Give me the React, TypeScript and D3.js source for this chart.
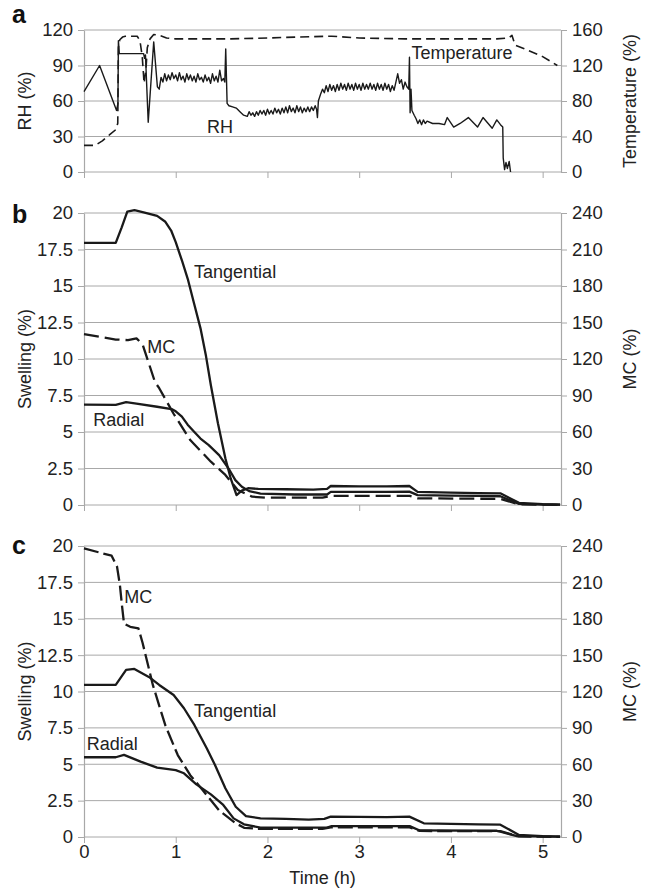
import { useEffect, useRef } from 'react';
import * as d3 from 'd3';

type Pt = [number, number];

const hourTicks = [0, 1, 2, 3, 4, 5];
const rhTicks = [0, 30, 60, 90, 120];
const tempTicks = [0, 40, 80, 120, 160];
const swellTicks = [0, 2.5, 5, 7.5, 10, 12.5, 15, 17.5, 20];
const mcTicks = [0, 30, 60, 90, 120, 150, 180, 210, 240];

// panel a: relative humidity (left axis)
const rhA: Pt[] = [
  [0, 68], [0.17, 90], [0.355, 52], [0.37, 58], [0.375, 111], [0.385, 100], [0.65, 100], [0.66, 96],
  [0.67, 99], [0.7, 42], [0.76, 110], [0.8, 72], [0.82, 70], [0.84, 80],
  [0.86, 76], [0.88, 83], [0.9, 77], [0.92, 82], [0.94, 78], [0.96, 84], [0.98, 79], [1.0, 82],
  [1.02, 77], [1.04, 84], [1.06, 78], [1.08, 81], [1.1, 76], [1.12, 83], [1.14, 78], [1.16, 82],
  [1.18, 77], [1.2, 81], [1.22, 76], [1.24, 83], [1.26, 78], [1.28, 80], [1.3, 76], [1.32, 82],
  [1.34, 77], [1.36, 80], [1.38, 75], [1.4, 83], [1.42, 77], [1.44, 81], [1.46, 76], [1.48, 86],
  [1.5, 77], [1.52, 79], [1.535, 76], [1.545, 104], [1.56, 58], [1.58, 56], [1.62, 55], [1.66, 54],
  [1.7, 51], [1.74, 48], [1.78, 47], [1.8, 51], [1.82, 48], [1.84, 50], [1.86, 47], [1.88, 51],
  [1.9, 48], [1.92, 52], [1.94, 49], [1.96, 52], [1.98, 48], [2.0, 53], [2.02, 49], [2.04, 52],
  [2.06, 49], [2.08, 54], [2.1, 50], [2.12, 53], [2.14, 49], [2.16, 54], [2.18, 50], [2.2, 55],
  [2.22, 50], [2.24, 56], [2.26, 51], [2.28, 54], [2.3, 50], [2.32, 56], [2.34, 51], [2.36, 55],
  [2.38, 50], [2.4, 54], [2.42, 51], [2.44, 55], [2.46, 51], [2.48, 55], [2.5, 52], [2.52, 56],
  [2.535, 53], [2.545, 46], [2.555, 60], [2.58, 66], [2.6, 70], [2.62, 67], [2.64, 73], [2.66, 68],
  [2.68, 74], [2.7, 69], [2.72, 73], [2.74, 68], [2.76, 74], [2.78, 69], [2.8, 75], [2.82, 70],
  [2.84, 74], [2.86, 69], [2.88, 75], [2.9, 70], [2.92, 74], [2.94, 69], [2.96, 75], [2.98, 70],
  [3.0, 74], [3.02, 69], [3.04, 75], [3.06, 70], [3.08, 74], [3.1, 70], [3.12, 75], [3.14, 70],
  [3.16, 74], [3.18, 69], [3.2, 75], [3.22, 70], [3.24, 74], [3.26, 69], [3.28, 75], [3.3, 70],
  [3.32, 74], [3.34, 68], [3.36, 73], [3.38, 69], [3.42, 83], [3.44, 75], [3.46, 78], [3.48, 70],
  [3.5, 76], [3.52, 72], [3.54, 70], [3.548, 97], [3.555, 50], [3.565, 70], [3.575, 52], [3.6, 48],
  [3.62, 45], [3.64, 41], [3.66, 44], [3.68, 40], [3.7, 44], [3.72, 41], [3.74, 43], [3.8, 41],
  [3.87, 41], [3.93, 40], [3.96, 46], [4.03, 38], [4.1, 41], [4.19, 46], [4.29, 38], [4.35, 46],
  [4.45, 37], [4.5, 44], [4.54, 40], [4.565, 38], [4.57, 12], [4.585, 2], [4.6, 8], [4.615, 3],
  [4.635, 9], [4.65, 0],
];

// panel a: temperature (right axis)
const tempA: Pt[] = [
  [0, 30], [0.12, 30], [0.2, 35], [0.28, 42], [0.35, 48], [0.368, 55], [0.375, 140], [0.39, 149],
  [0.42, 152], [0.45, 153], [0.58, 153], [0.61, 148], [0.635, 130], [0.655, 100], [0.675, 115],
  [0.69, 140], [0.72, 150], [0.76, 155], [0.82, 154], [0.9, 151], [1.0, 150], [1.3, 150], [1.6, 150],
  [2.0, 151], [2.3, 152], [2.7, 153], [3.0, 151], [3.5, 150], [4.0, 150], [4.5, 150], [4.63, 151],
  [4.665, 154], [4.7, 143], [4.8, 139], [5.0, 130], [5.16, 120],
];

// panel b
const tangB: Pt[] = [
  [0, 17.95], [0.346, 17.95], [0.41, 19.0], [0.472, 20.1], [0.55, 20.2], [0.65, 20.05], [0.797, 19.8],
  [0.887, 19.4], [0.95, 18.8], [1.0, 18.0], [1.07, 16.7], [1.135, 15.4], [1.2, 13.8], [1.27, 12.1],
  [1.33, 10.2], [1.383, 8.2], [1.46, 5.6], [1.541, 3.2], [1.6, 1.8], [1.663, 0.68], [1.72, 0.98],
  [1.789, 1.15], [1.9, 1.1], [2.2, 1.08], [2.5, 1.05], [2.65, 1.1], [2.69, 1.3], [3.0, 1.28],
  [3.3, 1.27], [3.547, 1.3], [3.637, 0.9], [4.0, 0.85], [4.3, 0.82], [4.539, 0.8], [4.742, 0.15],
  [5.0, 0.06], [5.19, 0.03],
];
const radialB: Pt[] = [
  [0, 6.88], [0.346, 6.86], [0.459, 7.05], [0.572, 6.95], [0.797, 6.73], [0.955, 6.57], [1.0, 6.42],
  [1.067, 6.05], [1.13, 5.5], [1.203, 5.0], [1.27, 4.55], [1.36, 4.1], [1.473, 3.42], [1.586, 2.4],
  [1.65, 1.7], [1.721, 1.25], [1.8, 0.95], [1.924, 0.78], [2.3, 0.72], [2.65, 0.72], [2.69, 0.9],
  [3.0, 0.9], [3.3, 0.9], [3.547, 0.92], [3.637, 0.68], [4.0, 0.64], [4.3, 0.62], [4.539, 0.6],
  [4.742, 0.08], [5.0, 0.03], [5.19, 0.02],
];
const mcB: Pt[] = [
  [0, 140.5], [0.346, 136], [0.48, 135.5], [0.572, 137], [0.639, 132], [0.774, 101], [0.82, 96],
  [0.977, 75], [1.158, 53.4], [1.383, 35.6], [1.541, 24.7], [1.676, 12.3], [1.834, 6.8], [2.0, 6],
  [2.6, 6], [2.69, 7.5], [3.55, 7.5], [3.64, 5.5], [4.54, 5], [4.74, 0.5], [5.19, 0.1],
];

// panel c
const tangC: Pt[] = [
  [0, 10.45], [0.346, 10.45], [0.459, 11.48], [0.549, 11.55], [0.707, 11.0], [0.82, 10.45],
  [0.977, 9.76], [1.09, 8.85], [1.203, 7.7], [1.338, 6.1], [1.428, 4.95], [1.541, 3.35], [1.654, 2.08],
  [1.766, 1.44], [1.924, 1.28], [2.2, 1.25], [2.45, 1.2], [2.62, 1.25], [2.69, 1.4], [3.0, 1.38],
  [3.3, 1.37], [3.547, 1.4], [3.705, 0.94], [4.0, 0.9], [4.3, 0.87], [4.539, 0.85], [4.742, 0.14],
  [5.0, 0.06], [5.19, 0.03],
];
const radialC: Pt[] = [
  [0, 5.48], [0.346, 5.48], [0.436, 5.64], [0.617, 5.18], [0.797, 4.77], [1.0, 4.6], [1.09, 4.38],
  [1.225, 3.62], [1.383, 2.93], [1.518, 2.2], [1.631, 1.28], [1.744, 0.87], [1.924, 0.64], [2.65, 0.65],
  [2.7, 0.75], [3.55, 0.75], [3.66, 0.45], [4.5, 0.43], [4.72, 0.06], [5.19, 0.02],
];
const mcC: Pt[] = [
  [0, 238], [0.301, 232], [0.36, 223], [0.391, 208], [0.414, 191], [0.436, 176], [0.504, 173.4],
  [0.594, 172], [0.639, 160], [0.752, 125], [0.887, 92], [1.022, 67.6], [1.158, 51], [1.293, 38.7],
  [1.473, 22], [1.654, 11.3], [1.75, 7.5], [1.9, 6.8], [2.6, 6.8], [2.69, 8], [3.55, 8], [3.66, 5],
  [4.54, 4.8], [4.74, 0.5], [5.19, 0.1],
];

const FONT = '"Liberation Sans", Arial, Helvetica, sans-serif';
const INK = '#1a1a1a';
const GRID = '#a8a8a8';
const TICK_SIZE = '18.5px';
const TEXT_SIZE = '18px';

const panels = [
  {
    letter: 'a', top: 30, bottom: 172, letterY: 23,
    leftMax: 120, leftTicks: rhTicks, leftTitle: 'RH (%)',
    rightMax: 160, rightTicks: tempTicks, rightTitle: 'Temperature (%)',
    series: [
      { data: rhA, side: 'left', dash: null, width: 1.4 },
      { data: tempA, side: 'right', dash: '9,5', width: 1.6 },
    ],
    notes: [
      { text: 'Temperature', h: 3.57, v: 95.5 },
      { text: 'RH', h: 1.34, v: 33 },
    ],
  },
  {
    letter: 'b', top: 213, bottom: 505, letterY: 223,
    leftMax: 20, leftTicks: swellTicks, leftTitle: 'Swelling (%)',
    rightMax: 240, rightTicks: mcTicks, rightTitle: 'MC (%)',
    series: [
      { data: tangB, side: 'left', dash: null, width: 2.3 },
      { data: radialB, side: 'left', dash: null, width: 2.3 },
      { data: mcB, side: 'right', dash: '15,6', width: 2.3 },
    ],
    notes: [
      { text: 'Tangential', h: 1.2, v: 15.55 },
      { text: 'MC', h: 0.69, v: 10.4 },
      { text: 'Radial', h: 0.1, v: 5.4 },
    ],
  },
  {
    letter: 'c', top: 546, bottom: 837, letterY: 554,
    leftMax: 20, leftTicks: swellTicks, leftTitle: 'Swelling (%)',
    rightMax: 240, rightTicks: mcTicks, rightTitle: 'MC (%)',
    series: [
      { data: tangC, side: 'left', dash: null, width: 2.3 },
      { data: radialC, side: 'left', dash: null, width: 2.3 },
      { data: mcC, side: 'right', dash: '15,5', width: 2.3 },
    ],
    notes: [
      { text: 'MC', h: 0.44, v: 16.1 },
      { text: 'Tangential', h: 1.2, v: 8.25 },
      { text: 'Radial', h: 0.03, v: 6.0 },
    ],
  },
];

const App = () => {
  const svgRef = useRef<SVGSVGElement>(null);

  useEffect(() => {
    const svg = d3.select(svgRef.current);
    svg.selectAll('*').remove();

    const left = 84;
    const right = 561;
    const x = d3.scaleLinear().domain([0, 5.2]).range([left, right]);

    panels.forEach((p, i) => {
      const yL = d3.scaleLinear().domain([0, p.leftMax]).range([p.bottom, p.top]);
      const yR = d3.scaleLinear().domain([0, p.rightMax]).range([p.bottom, p.top]);
      const g = svg.append('g');

      // gridlines
      g.selectAll('line.grid')
        .data(p.leftTicks)
        .enter()
        .append('line')
        .attr('x1', left)
        .attr('x2', right)
        .attr('y1', d => yL(d))
        .attr('y2', d => yL(d))
        .attr('stroke', GRID)
        .attr('stroke-width', 1);

      const styleAxis = (sel: any) => {
        sel.selectAll('path').attr('stroke', GRID).attr('stroke-width', 1.2);
        sel.selectAll('line').attr('stroke', GRID).attr('stroke-width', 1);
        sel.selectAll('text')
          .attr('fill', '#222')
          .style('font-family', FONT)
          .style('font-size', TICK_SIZE);
        sel.attr('font-family', null).attr('font-size', null);
      };

      const axL = g.append('g')
        .attr('transform', `translate(${left},0)`)
        .call(d3.axisLeft(yL).tickValues(p.leftTicks).tickSize(6).tickSizeOuter(0).tickPadding(5).tickFormat(d3.format('')));
      styleAxis(axL);

      const axR = g.append('g')
        .attr('transform', `translate(${right},0)`)
        .call(d3.axisRight(yR).tickValues(p.rightTicks).tickSize(6).tickSizeOuter(0).tickPadding(5).tickFormat(d3.format('')));
      styleAxis(axR);

      const axB = g.append('g')
        .attr('transform', `translate(0,${p.bottom})`)
        .call(d3.axisBottom(x).tickValues(hourTicks).tickSize(6).tickSizeOuter(0).tickPadding(2).tickFormat(d3.format('')));
      styleAxis(axB);
      axB.select('path').remove();
      if (i < panels.length - 1) axB.selectAll('text').remove();

      // series
      p.series.forEach(s => {
        const y = s.side === 'left' ? yL : yR;
        const line = d3.line<Pt>().x(d => x(d[0])).y(d => y(d[1]));
        g.append('path')
          .datum(s.data)
          .attr('d', line)
          .attr('fill', 'none')
          .attr('stroke', INK)
          .attr('stroke-width', s.width)
          .attr('stroke-linejoin', 'round')
          .attr('stroke-dasharray', s.dash);
      });

      // in-plot labels
      p.notes.forEach(n => {
        g.append('text')
          .attr('x', x(n.h))
          .attr('y', yL(n.v))
          .attr('fill', '#222')
          .style('font-family', FONT)
          .style('font-size', TEXT_SIZE)
          .text(n.text);
      });

      const midY = (p.top + p.bottom) / 2;
      g.append('text')
        .attr('transform', `translate(25,${midY}) rotate(-90)`)
        .attr('text-anchor', 'middle')
        .attr('dy', '0.35em')
        .attr('fill', '#222')
        .style('font-family', FONT)
        .style('font-size', TEXT_SIZE)
        .text(p.leftTitle);

      g.append('text')
        .attr('transform', `translate(630,${midY}) rotate(-90)`)
        .attr('text-anchor', 'middle')
        .attr('dy', '0.35em')
        .attr('fill', '#222')
        .style('font-family', FONT)
        .style('font-size', TEXT_SIZE)
        .text(p.rightTitle);

      g.append('text')
        .attr('x', 12)
        .attr('y', p.letterY)
        .attr('fill', '#111')
        .style('font-family', FONT)
        .style('font-size', '25px')
        .style('font-weight', 'bold')
        .text(p.letter);
    });

    svg.append('text')
      .attr('x', (left + right) / 2)
      .attr('y', 884)
      .attr('text-anchor', 'middle')
      .attr('fill', '#222')
      .style('font-family', FONT)
      .style('font-size', TEXT_SIZE)
      .text('Time (h)');
  }, []);

  return (
    <div style={{ position: 'absolute', left: 0, top: 0, background: '#fff' }}>
      <svg ref={svgRef} width={645} height={892}></svg>
    </div>
  );
};

export default App;
